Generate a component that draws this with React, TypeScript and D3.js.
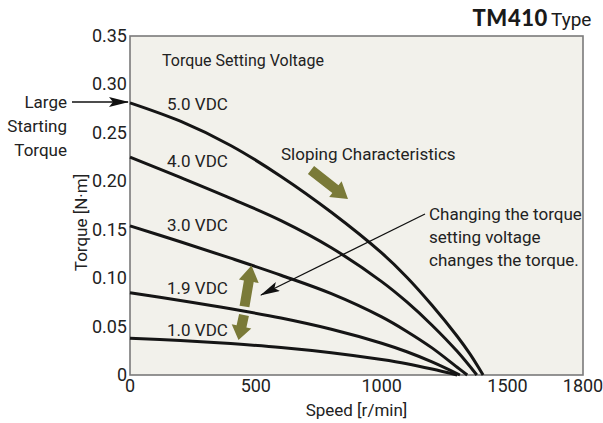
import React from "react";
import * as d3 from "d3";

const xTicks = [0, 500, 1000, 1500, 1800];
const yTicks = [0, 0.05, 0.1, 0.15, 0.2, 0.25, 0.3, 0.35];
const yTickLabels = ["0", "0.05", "0.10", "0.15", "0.20", "0.25", "0.30", "0.35"];

const seriesLabels = ["5.0 VDC", "4.0 VDC", "3.0 VDC", "1.9 VDC", "1.0 VDC"];
const labelTorque = [0.2734, 0.2147, 0.1484, 0.0836, 0.0407];
const speed50 = [0, 200, 400, 600, 800, 1000, 1100, 1200, 1300, 1350, 1403];
const torque50 = [0.281, 0.262, 0.237, 0.205, 0.168, 0.126, 0.101, 0.072, 0.04, 0.022, 0];
const speed40 = [0, 200, 400, 600, 800, 1000, 1100, 1200, 1300, 1378];
const torque40 = [0.225, 0.204, 0.1824, 0.1594, 0.1314, 0.0964, 0.0754, 0.0514, 0.0244, 0];
const speed30 = [0, 200, 400, 600, 800, 1000, 1100, 1200, 1300, 1340];
const torque30 = [0.154, 0.1376, 0.1206, 0.103, 0.084, 0.06, 0.045, 0.028, 0.008, 0];
const speed19 = [0, 200, 400, 600, 800, 1000, 1100, 1200, 1311];
const torque19 = [0.085, 0.077, 0.0684, 0.0588, 0.0472, 0.0328, 0.024, 0.0135, 0];
const speed10 = [0, 200, 400, 600, 800, 1000, 1100, 1200, 1300];
const torque10 = [0.038, 0.0356, 0.0324, 0.0284, 0.023, 0.016, 0.0117, 0.0062, 0];

const speeds = [speed50, speed40, speed30, speed19, speed10];
const torques = [torque50, torque40, torque30, torque19, torque10];

const W = 603;
const H = 423;
const L = 130, R = 583, T = 36, B = 375;
const FONT = "Roboto, 'Liberation Sans', sans-serif";
const OLIVE = "#7a7a38";

export default function App() {
  const x = d3.scaleLinear().domain([0, 1800]).range([L, R]);
  const y = d3.scaleLinear().domain([0, 0.35]).range([B, T]);
  const line = d3
    .line<[number, number]>()
    .x((d) => x(d[0]))
    .y((d) => y(d[1]))
    .curve(d3.curveCatmullRom.alpha(0.5));

  return (
    <svg
      width={W}
      height={H}
      style={{ position: "absolute", left: 0, top: 0, fontFamily: FONT }}
    >
      <defs>
        <marker id="ah2" viewBox="0 0 20 10" refX="19" refY="5" markerWidth="20" markerHeight="10" orient="auto" markerUnits="userSpaceOnUse">
          <path d="M0,0 L20,5 L0,10 L4,5 z" fill="#111" />
        </marker>
      </defs>
      <rect width={W} height={H} fill="#ffffff" />
      {/* Title */}
      <text x={548} y={26} textAnchor="end" fontFamily="Lato, 'Open Sans', sans-serif" fontWeight={900} fontSize={22} letterSpacing={0.6} fill="#1a1a1a">
        TM410
      </text>
      <text x={551} y={26} fontSize={19} fill="#1a1a1a">
        Type
      </text>
      {/* plot area */}
      <rect x={L} y={T} width={R - L} height={B - T} fill="#f2f1eb" stroke="#7a7a7a" strokeWidth={1.6} />
      {/* tick labels */}
      {yTicks.map((t, i) => (
        <text key={"y" + i} x={L - 3} y={y(t) + 6} textAnchor="end" fontSize={18} fill="#222">
          {yTickLabels[i]}
        </text>
      ))}
      {xTicks.map((t, i) => (
        <text key={"x" + i} x={x(t)} y={B + 17} textAnchor="middle" fontSize={18} fill="#222">
          {t}
        </text>
      ))}
      <text x={(L + R) / 2} y={B + 41} textAnchor="middle" fontSize={17} fill="#222">
        Speed [r/min]
      </text>
      <text transform={`translate(87,${(T + B) / 2 + 17}) rotate(-90)`} textAnchor="middle" fontSize={17} fill="#222">
        Torque [N·m]
      </text>
      {/* curves */}
      {speeds.map((s, i) => (
        <path
          key={"c" + i}
          d={line(s.map((v, j) => [v, torques[i][j]] as [number, number])) || ""}
          fill="none"
          stroke="#151515"
          strokeWidth={3}
        />
      ))}
      {/* series labels */}
      {seriesLabels.map((lab, i) => (
        <text key={"l" + i} x={167} y={y(labelTorque[i])} fontSize={17} fill="#222">
          {lab}
        </text>
      ))}
      <text x={162} y={66} fontSize={16} fill="#222">
        Torque Setting Voltage
      </text>
      {/* Large starting torque */}
      <g fontSize={17} fill="#222" textAnchor="end">
        <text x={67} y={108}>Large</text>
        <text x={67} y={132}>Starting</text>
        <text x={67} y={156}>Torque</text>
      </g>
      <line x1={72} y1={102} x2={128} y2={102} stroke="#111" strokeWidth={1.4} markerEnd="url(#ah2)" />
      {/* sloping */}
      <text x={281} y={160} fontSize={17} fill="#222">
        Sloping Characteristics
      </text>
      <g fill={OLIVE}>
        <path d={arrowPath(311, 170, 348, 199, 10, 20, 16)} />
        <path d={arrowPath(244.5, 306.5, 251.5, 265.5, 10, 20, 16)} />
        <path d={arrowPath(244, 315, 238.5, 340, 10, 20, 14)} />
      </g>
      {/* changing */}
      <g fontSize={17} fill="#222">
        <text x={429} y={220}>Changing the torque</text>
        <text x={429} y={243}>setting voltage</text>
        <text x={429} y={266}>changes the torque.</text>
      </g>
      <line x1={425} y1={214} x2={261} y2={295} stroke="#111" strokeWidth={1.3} markerEnd="url(#ah2)" />
    </svg>
  );
}

function arrowPath(x1: number, y1: number, x2: number, y2: number, bodyW: number, headW: number, headL: number) {
  const dx = x2 - x1, dy = y2 - y1;
  const len = Math.hypot(dx, dy);
  const ux = dx / len, uy = dy / len;
  const nx = -uy, ny = ux;
  const bx = x2 - ux * headL, by = y2 - uy * headL;
  const p = [
    [x1 + nx * bodyW / 2, y1 + ny * bodyW / 2],
    [bx + nx * bodyW / 2, by + ny * bodyW / 2],
    [bx + nx * headW / 2, by + ny * headW / 2],
    [x2, y2],
    [bx - nx * headW / 2, by - ny * headW / 2],
    [bx - nx * bodyW / 2, by - ny * bodyW / 2],
    [x1 - nx * bodyW / 2, y1 - ny * bodyW / 2],
  ];
  return "M" + p.map((q) => q[0].toFixed(1) + "," + q[1].toFixed(1)).join("L") + "Z";
}
